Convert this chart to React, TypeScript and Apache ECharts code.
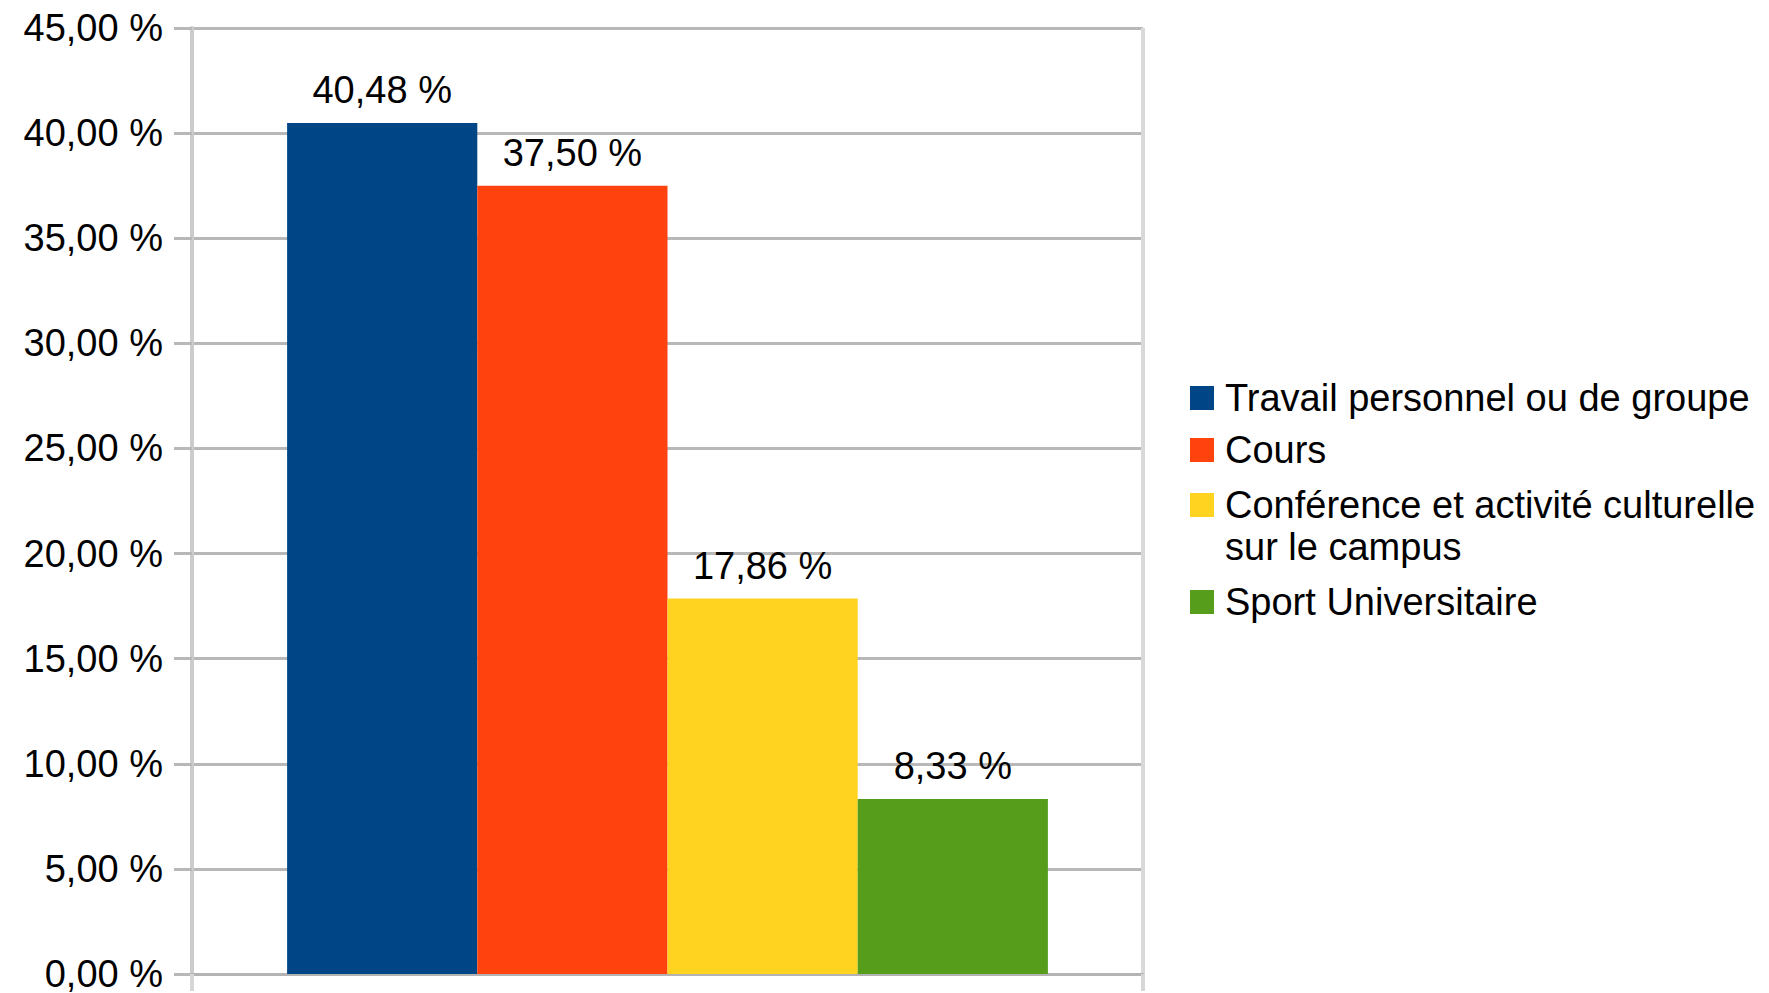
import React, { useEffect, useRef } from "react";
import * as echarts from "echarts";

const seriesNames = [
  "Travail personnel ou de groupe",
  "Cours",
  "Conférence et activité culturelle sur le campus",
  "Sport Universitaire",
];
const legendLabels = [
  "Travail personnel ou de groupe",
  "Cours",
  "\nConférence et activité culturelle\nsur le campus",
  "Sport Universitaire",
];
const seriesValues = [40.48, 37.5, 17.86, 8.33];
const seriesColors = ["#004586", "#ff420e", "#ffd320", "#579d1c"];
const categories = [""];
const yMin = 0;
const yMax = 45;
const yInterval = 5;

const FONT = "'Liberation Sans', Arial, sans-serif";
const fmt = (v: number) => v.toFixed(2).replace(".", ",") + " %";

export default function App() {
  const ref = useRef<HTMLDivElement>(null);
  useEffect(() => {
    document.body.style.margin = "0";
    if (!ref.current) return;
    const chart = echarts.init(ref.current, undefined, { renderer: "svg" });
    const legendTops = [377, 429, 442, 581];
    const legends = seriesNames.map((name, i) => ({
      orient: "vertical",
      left: 1190,
      top: legendTops[i],
      padding: 0,
      itemWidth: 24,
      itemHeight: 24,
      icon: "rect",
      selectedMode: false,
      data: [name],
      formatter: () => legendLabels[i],
      textStyle: {
        fontFamily: FONT,
        fontSize: 38,
        color: "#000",
        lineHeight: 42,
        padding: [0, 0, 0, 6],
      },
    }));
    chart.setOption({
      animation: false,
      backgroundColor: "#fff",
      grid: { left: 192, right: 626, top: 28, bottom: 17, containLabel: false },
      legend: legends,
      xAxis: {
        type: "category",
        data: categories,
        axisLine: { show: true, lineStyle: { color: "#b3b3b3", width: 3 } },
        axisTick: { show: true, length: 17, lineStyle: { color: "#d6d6d6", width: 4 } },
        axisLabel: { show: false },
        splitLine: { show: true, lineStyle: { color: "#d9d9d9", width: 4 } },
      },
      yAxis: {
        type: "value",
        min: yMin,
        max: yMax,
        interval: yInterval,
        axisLine: { show: true, lineStyle: { color: "#cccccc", width: 4 } },
        axisTick: { show: true, length: 18, lineStyle: { color: "#b8b8b8", width: 3 } },
        axisLabel: {
          margin: 29,
          fontFamily: FONT,
          fontSize: 38,
          color: "#000",
          formatter: (v: number) => fmt(v),
        },
        splitLine: { show: true, lineStyle: { color: "#b8b8b8", width: 3 } },
      },
      series: seriesNames.map((name, i) => ({
        type: "bar",
        name,
        data: [seriesValues[i]],
        barGap: "0%",
        barCategoryGap: "20%",
        itemStyle: { color: seriesColors[i] },
        label: {
          show: true,
          position: "top",
          distance: 14,
          fontFamily: FONT,
          fontSize: 38,
          color: "#000",
          formatter: (p: any) => fmt(p.value),
        },
      })),
    });
    return () => chart.dispose();
  }, []);
  return <div ref={ref} style={{ width: 1769, height: 993 }} />;
}
